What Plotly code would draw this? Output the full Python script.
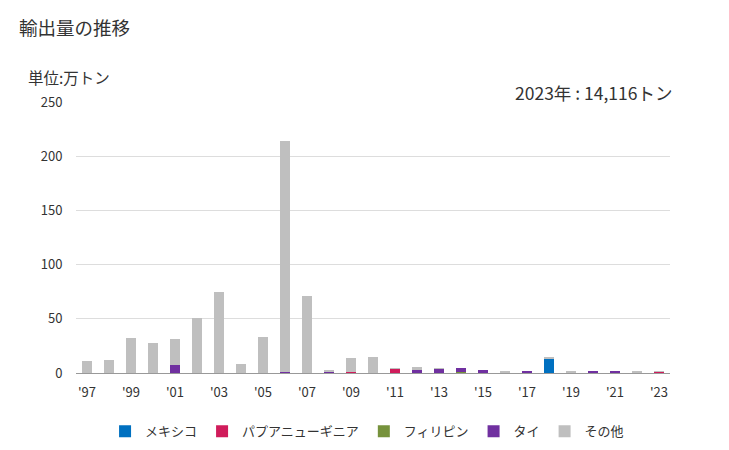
import plotly.graph_objects as go

years = [str(y) for y in range(1997, 2024)]
tick_labels = ["'" + y[2:] for y in years]

mexico = [0,0,0,0,0,0,0,0,0,0,0,0,0,0,0,0,0,0,0,0,0,13,0,0,0,0,0]
png    = [0,0,0,0,0,0,0,0,0,0,0,0,1.0,0,4.0,0,0,0,0,0,0,0,0,0,0,0,1.0]
phil   = [0,0,0,0,0,0,0,0,0,0,0,0,0,0,0,0,0,1.0,0,0,0,0,0,0,0,0,0]
thai   = [0,0,0,0,7.5,0,0,0,0,1.0,0,1.5,0,0,0,3.0,4.0,3.5,3.0,0,1.0,0,0,1.0,1.0,0,0]
other  = [11,12,32,28,24,51,75,8.5,33,213,71,0.5,13,15,0.6,2.5,0.5,0,0,1.0,0,1.0,1.0,0,0,1.0,0.4]

names = ["メキシコ", "パプアニューギニア", "フィリピン", "タイ", "その他"]
colors = ["#0070C0", "#D01C5B", "#76923C", "#7030A0", "#BFBFBF"]
series = [mexico, png, phil, thai, other]

fig = go.Figure()
for n, c, s in zip(names, colors, series):
    fig.add_trace(go.Bar(x=years, y=s, name=n, marker_color=c, marker_line_width=0))

font = "Noto Sans CJK JP"
fig.update_layout(
    barmode="stack",
    bargap=0.58,
    width=729, height=450,
    margin=dict(l=76, r=59, t=102, b=77, autoexpand=False),
    plot_bgcolor="white", paper_bgcolor="white",
    font=dict(family=font, color="#333333", size=12),
    showlegend=True,
    legend=dict(orientation="h", x=0.49, xanchor="center", y=-0.16, yanchor="top",
                font=dict(size=13, color="#333333"), traceorder="normal",
                itemwidth=30),
    xaxis=dict(type="category", tickmode="array", tickvals=years[::2], ticktext=tick_labels[::2],
               showline=True, linecolor="#999999", linewidth=1, ticks="outside", ticklen=7,
               tickcolor="rgba(0,0,0,0)", automargin=False,
               tickfont=dict(size=13, color="#333333"), showgrid=False),
    yaxis=dict(range=[0, 250], tickvals=[0, 50, 100, 150, 200, 250], showgrid=True,
               gridcolor="#DDDDDD", zeroline=False, ticks="outside", ticklen=10, automargin=False,
               tickcolor="rgba(0,0,0,0)", tickfont=dict(size=13, color="#333333")),
    annotations=[
        dict(text="輸出量の推移", xref="paper", yref="paper", x=-76/594, y=1+75/271,
             xanchor="left", yanchor="middle", showarrow=False, font=dict(size=18.5, color="#333333"), xshift=17),
        dict(text="単位:万トン", xref="paper", yref="paper", x=-76/594, y=1+25/271,
             xanchor="left", yanchor="middle", showarrow=False, font=dict(size=15.5, color="#333333"), xshift=26),
        dict(text="2023年 : 14,116トン", xref="paper", yref="paper", x=1, y=1+10/271,
             xanchor="right", yanchor="middle", showarrow=False, font=dict(size=17.5, color="#333333"), xshift=4),
    ],
)
fig.write_html("out.html")
